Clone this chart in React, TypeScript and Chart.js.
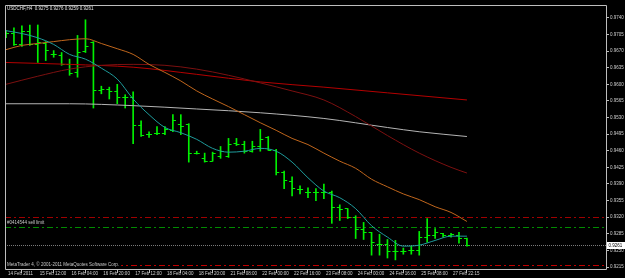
import React, { useEffect, useRef } from 'react';
import { Chart, registerables } from 'chart.js';

Chart.register(...registerables);

const HEADER = 'USDCHF,H4  0.9275 0.9276 0.9259 0.9261';
const ORDER_LABEL = '#0414544 sell limit';
const COPYRIGHT = 'MetaTrader 4, \u00a9 2001-2011 MetaQuotes Software Corp.';

const OPEN = [0.9703,0.9707,0.9684,0.9711,0.9684,0.9686,0.9663,0.9661,0.9642,0.9625,
  0.9669,0.9688,0.9586,0.9590,0.9584,0.9573,0.9573,0.9513,0.9494,0.9496,
  0.9496,0.9503,0.9515,0.9515,0.9455,0.9444,0.9438,0.9448,0.9448,0.9475,
  0.9473,0.9459,0.9469,0.9488,0.9461,0.9415,0.9396,0.9378,0.9373,0.9371,
  0.9371,0.9371,0.9340,0.9338,0.9319,0.9294,0.9288,0.9263,0.9263,0.9248,
  0.9248,0.9250,0.9250,0.9278,0.9282,0.9286,0.9282,0.9282,0.9275];
const HIGH = [0.9713,0.9719,0.9723,0.9725,0.9725,0.9690,0.9671,0.9667,0.9653,0.9703,
  0.9736,0.9690,0.9596,0.9594,0.9600,0.9578,0.9584,0.9523,0.9500,0.9511,
  0.9511,0.9536,0.9536,0.9517,0.9459,0.9455,0.9457,0.9469,0.9486,0.9486,
  0.9480,0.9480,0.9505,0.9490,0.9463,0.9417,0.9405,0.9386,0.9382,0.9380,
  0.9390,0.9375,0.9346,0.9338,0.9323,0.9309,0.9288,0.9284,0.9273,0.9271,
  0.9255,0.9259,0.9290,0.9317,0.9296,0.9286,0.9286,0.9288,0.9276];
const LOW = [0.9698,0.9682,0.9680,0.9682,0.9646,0.9650,0.9657,0.9640,0.9619,0.9615,
  0.9667,0.9550,0.9580,0.9569,0.9559,0.9550,0.9475,0.9490,0.9488,0.9494,
  0.9494,0.9500,0.9494,0.9436,0.9453,0.9436,0.9438,0.9444,0.9446,0.9471,
  0.9455,0.9457,0.9459,0.9461,0.9409,0.9380,0.9365,0.9369,0.9361,0.9355,
  0.9359,0.9307,0.9313,0.9317,0.9275,0.9273,0.9240,0.9240,0.9234,0.9230,
  0.9242,0.9242,0.9240,0.9267,0.9275,0.9278,0.9278,0.9265,0.9259];
const CLOSE = [0.9707,0.9684,0.9711,0.9684,0.9688,0.9671,0.9663,0.9642,0.9623,0.9667,
  0.9680,0.9586,0.9588,0.9584,0.9573,0.9573,0.9513,0.9492,0.9494,0.9496,
  0.9505,0.9523,0.9511,0.9455,0.9455,0.9438,0.9455,0.9459,0.9473,0.9473,
  0.9459,0.9469,0.9484,0.9461,0.9415,0.9398,0.9380,0.9378,0.9373,0.9371,
  0.9373,0.9340,0.9336,0.9319,0.9294,0.9288,0.9267,0.9263,0.9248,0.9248,
  0.9248,0.9250,0.9278,0.9282,0.9288,0.9282,0.9284,0.9275,0.9261];

const TEAL_IDX = [0,2,4,6,8,10,12,14,16,18,20,22,24,26,28,30,32,34,36,38,40,42,44,46,48,50,52,54,56,58];
const TEAL = [0.9713,0.9707,0.9698,0.9684,0.9663,0.9653,0.9634,0.9611,0.9569,0.9536,
  0.9509,0.9498,0.9484,0.9465,0.9457,0.9459,0.9465,0.9459,0.9436,0.9403,
  0.9375,0.9361,0.9338,0.9302,0.9278,0.9259,0.9261,0.9271,0.9280,0.9280];
const ORANGE_IDX = [0,2,4,6,8,10,12,14,16,18,20,22,24,26,28,30,32,34,36,38,40,42,44,46,48,50,52,54,56,58];
const ORANGE = [0.9673,0.9682,0.9686,0.9690,0.9694,0.9696,0.9686,0.9675,0.9663,0.9642,
  0.9625,0.9607,0.9586,0.9569,0.9553,0.9536,0.9519,0.9503,0.9486,0.9473,
  0.9455,0.9438,0.9423,0.9400,0.9384,0.9369,0.9357,0.9342,0.9330,0.9311];
const DARKRED_IDX = [0,4,8,12,16,20,24,28,32,36,40,44,48,52,56,58];
const DARKRED = [0.9600,0.9617,0.9632,0.9640,0.9642,0.9640,0.9632,0.9619,0.9603,0.9586,0.9567,0.9532,0.9492,0.9455,0.9425,0.9413];
const RED_IDX = [0,8,16,24,32,40,48,58];
const RED = [0.9646,0.9642,0.9636,0.9621,0.9605,0.9594,0.9582,0.9567];
const GRAY_IDX = [0,8,16,24,32,40,48,52,58];
const GRAY = [0.9559,0.9559,0.9555,0.9548,0.9540,0.9528,0.9509,0.9500,0.9490];

const STOP_LEVEL = 0.9320;
const SELL_LIMIT_LEVEL = 0.9300;
const BID = 0.9261;
const TAKE_LEVEL = 0.9220;

const X_TICK_IDX = [0,4,8,12,16,20,24,28,32,36,40,44,48,52,56];
const X_TICK_LABELS = ['14 Feb 2011','15 Feb 12:00','16 Feb 04:00','16 Feb 20:00','17 Feb 12:00',
  '18 Feb 04:00','18 Feb 20:00','21 Feb 08:00','22 Feb 00:00','22 Feb 16:00','23 Feb 08:00',
  '24 Feb 00:00','24 Feb 16:00','25 Feb 08:00','27 Feb 22:15'];
const Y_TICKS = [0.9740,0.9705,0.9670,0.9635,0.9600,0.9565,0.9530,0.9495,0.9460,0.9425,0.9390,0.9355,0.9320,0.9285,0.9250,0.9215];

const BAR_COLOR = '#00f000';
const FONT = '4.5px "Liberation Sans", Arial, sans-serif';

function series(idx: number[], vals: number[]) {
  return idx.map((x, i) => ({ x, y: vals[i] }));
}

export default function App() {
  const ref = useRef<HTMLCanvasElement>(null);
  useEffect(() => {
    document.body.style.margin = '0';
    document.body.style.background = '#000';
    const canvas = ref.current!;
    const makeTick = (left: boolean) => {
      const c = document.createElement('canvas');
      c.width = 8; c.height = 1;
      const g = c.getContext('2d')!;
      g.fillStyle = BAR_COLOR;
      g.fillRect(left ? 1 : 4, 0, 3, 1);
      return c;
    };
    const openTick = makeTick(true);
    const closeTick = makeTick(false);

    const mt4 = {
      id: 'mt4',
      beforeDraw(chart: any) {
        const ctx = chart.ctx;
        ctx.save();
        ctx.fillStyle = '#000';
        ctx.fillRect(0, 0, chart.width, chart.height);
        ctx.restore();
      },
      beforeDatasetsDraw(chart: any) {
        const ctx = chart.ctx;
        const a = chart.chartArea;
        const ys = chart.scales.y;
        const lv = (v: number, color: string, dash: number[]) => {
          const y = Math.round(ys.getPixelForValue(v)) + 0.5;
          ctx.save();
          ctx.strokeStyle = color;
          ctx.lineWidth = 1;
          ctx.setLineDash(dash);
          ctx.beginPath();
          ctx.moveTo(a.left, y);
          ctx.lineTo(a.right, y);
          ctx.stroke();
          ctx.restore();
        };
        lv(STOP_LEVEL, '#a00000', [6, 3, 2, 3]);
        lv(SELL_LIMIT_LEVEL, '#008c00', [6, 3, 2, 3]);
        lv(BID, '#7a7a7a', [1, 1]);
        lv(TAKE_LEVEL, '#c00000', [6, 3, 2, 3]);
      },
      afterDraw(chart: any) {
        const ctx = chart.ctx;
        const a = chart.chartArea;
        const ys = chart.scales.y;
        ctx.save();
        ctx.strokeStyle = '#bdbdbd';
        ctx.lineWidth = 1;
        ctx.beginPath();
        ctx.moveTo(a.left + 0.5, a.bottom + 0.5);
        ctx.lineTo(a.left + 0.5, a.top + 0.5);
        ctx.lineTo(a.right + 0.5, a.top + 0.5);
        ctx.lineTo(a.right + 0.5, a.bottom + 0.5);
        ctx.lineTo(a.left + 0.5, a.bottom + 0.5);
        ctx.stroke();
        ctx.font = FONT;
        ctx.textBaseline = 'middle';
        ctx.textAlign = 'left';
        ctx.fillStyle = '#e6e6e6';
        ctx.fillText(HEADER, a.left + 2, a.top + 3.5);
        ctx.fillStyle = '#c8c8c8';
        ctx.fillText(ORDER_LABEL, a.left + 2, ys.getPixelForValue(SELL_LIMIT_LEVEL) - 4);
        const cy = ys.getPixelForValue(TAKE_LEVEL);
        const w = ctx.measureText(COPYRIGHT).width;
        ctx.fillStyle = '#000';
        ctx.fillRect(a.left + 1, cy - 3, w + 3, 6);
        ctx.fillStyle = '#c8c8c8';
        ctx.fillText(COPYRIGHT, a.left + 2, cy);
        const by = ys.getPixelForValue(BID);
        ctx.fillStyle = '#ffffff';
        ctx.fillRect(a.right + 1, Math.round(by) - 3, 18, 7);
        ctx.fillStyle = '#000';
        ctx.fillText(BID.toFixed(4), a.right + 2.5, Math.round(by) + 0.5);
        ctx.restore();
      },
    };

    const chart = new Chart(canvas, {
      type: 'bar',
      data: {
        datasets: [
          { type: 'line', data: series(TEAL_IDX, TEAL), borderColor: '#1e9c9c', borderWidth: 1, pointRadius: 0, cubicInterpolationMode: 'monotone', order: 1 } as any,
          { type: 'line', data: series(ORANGE_IDX, ORANGE), borderColor: '#c0661c', borderWidth: 1, pointRadius: 0, cubicInterpolationMode: 'monotone', order: 1 } as any,
          { type: 'line', data: series(DARKRED_IDX, DARKRED), borderColor: '#7c1010', borderWidth: 1, pointRadius: 0, cubicInterpolationMode: 'monotone', order: 1 } as any,
          { type: 'line', data: series(RED_IDX, RED), borderColor: '#b40000', borderWidth: 1, pointRadius: 0, cubicInterpolationMode: 'monotone', order: 1 } as any,
          { type: 'line', data: series(GRAY_IDX, GRAY), borderColor: '#b4b4b4', borderWidth: 1, pointRadius: 0, cubicInterpolationMode: 'monotone', order: 1 } as any,
          { type: 'bar', data: HIGH.map((h, i) => ({ x: i, y: [LOW[i], h] })), backgroundColor: BAR_COLOR, borderWidth: 0, barThickness: 1, maxBarThickness: 1, order: 3 } as any,
          { type: 'line', data: OPEN.map((v, i) => ({ x: i, y: v })), showLine: false, pointStyle: openTick, pointRadius: 3, order: 2 } as any,
          { type: 'line', data: CLOSE.map((v, i) => ({ x: i, y: v })), showLine: false, pointStyle: closeTick, pointRadius: 3, order: 2 } as any,
        ],
      },
      options: {
        animation: false,
        responsive: false,
        devicePixelRatio: 1,
        events: [],
        layout: { padding: { left: 1, top: 2, right: 0, bottom: 0 } },
        plugins: { legend: { display: false }, tooltip: { enabled: false } },
        scales: {
          x: {
            type: 'linear',
            offset: false,
            min: -0.125,
            max: 75.5,
            afterFit: (s: any) => { s.height = 9; },
            afterBuildTicks: (s: any) => { s.ticks = X_TICK_IDX.map((v) => ({ value: v })); },
            border: { display: false },
            grid: { drawOnChartArea: false, drawTicks: true, tickLength: 4, color: '#bdbdbd' },
            ticks: {
              autoSkip: false, maxRotation: 0, minRotation: 0, align: 'start', labelOffset: 2, padding: -2,
              color: '#d0d0d0', font: { family: '"Liberation Sans", Arial, sans-serif', size: 4.5 },
              callback: (_v: any, i: number) => X_TICK_LABELS[i],
            },
          },
          y: {
            type: 'linear',
            position: 'right',
            min: 0.92108,
            max: 0.97671,
            afterFit: (s: any) => { s.width = 19; },
            afterBuildTicks: (s: any) => { s.ticks = Y_TICKS.map((v) => ({ value: v })); },
            border: { display: false },
            grid: { drawOnChartArea: false, drawTicks: true, tickLength: 3, color: '#bdbdbd' },
            ticks: {
              padding: 1, color: '#d0d0d0', font: { family: '"Liberation Sans", Arial, sans-serif', size: 4.5 },
              callback: (v: any) => Number(v).toFixed(4),
            },
          },
        },
      } as any,
      plugins: [mt4],
    });
    return () => chart.destroy();
  }, []);
  return <canvas ref={ref} width={625} height={278} style={{ display: 'block' }} />;
}
